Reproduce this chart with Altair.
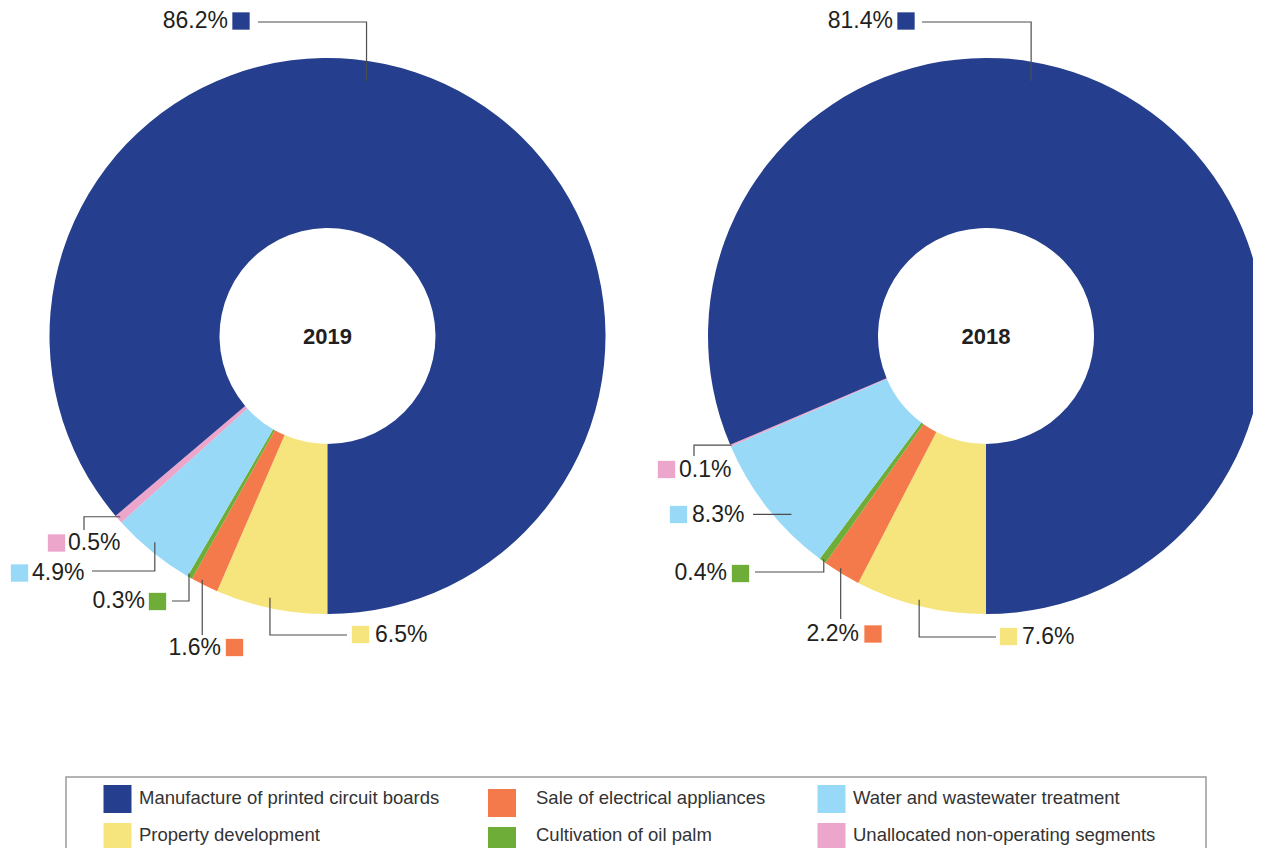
import math
import altair as alt
import pandas as pd

# ---------------- data ----------------
CATEGORIES = [
    "Property development",
    "Sale of electrical appliances",
    "Cultivation of oil palm",
    "Water and wastewater treatment",
    "Unallocated non-operating segments",
    "Manufacture of printed circuit boards",
]
COLORS = ["#F6E47C", "#F47A4B", "#6DAD38", "#97D9F6", "#ECA5CB", "#253E8D"]
YEARS = ["2019", "2018"]
SHARE_2019 = [6.5, 1.6, 0.3, 4.9, 0.5, 86.2]
SHARE_2018 = [7.6, 2.2, 0.4, 8.3, 0.1, 81.4]
LEGEND_ORDER = [
    "Manufacture of printed circuit boards",
    "Sale of electrical appliances",
    "Water and wastewater treatment",
    "Property development",
    "Cultivation of oil palm",
    "Unallocated non-operating segments",
]

# ---------------- layout (page pixels) ----------------
W, H = 1245, 840
ORIGIN = 8
CENTERS = {"2019": (327.5, 336.0), "2018": (986.0, 336.0)}
R_OUT, R_IN = 278, 108
PCT_FONT = "Liberation Sans Narrow, Arial Narrow, Liberation Sans, Arial"
PCT_SIZE = 23
LINE_COLOR = "#4D4D4D"
TEXT_COLOR = "#231F20"

# per label: anchor inside slice (fraction of slice, radius), leader path type,
# end point, square centre, text anchor x/y, text alignment
LABEL_LAYOUT = {
    ("2019", 0): dict(frac=0.53, rho=268, path="v", end=(347, 635), sq=(360.5, 634.5), tx=375, ty=635, align="left"),
    ("2019", 1): dict(frac=0.66, rho=274, path="vonly", end=(None, 635), sq=(234.5, 647.5), tx=221, ty=648, align="right"),
    ("2019", 2): dict(frac=1.0, rho=275, path="v", end=(172, 601), sq=(157.5, 601.5), tx=145, ty=601, align="right"),
    ("2019", 3): dict(frac=0.55, rho=269, path="v", end=(92, 571), sq=(19.5, 573), tx=32, ty=573, align="left"),
    ("2019", 4): dict(frac=0.57, rho=275, path="h", end=(84, 530), sq=(56.5, 543), tx=68, ty=543, align="left"),
    ("2019", 5): dict(frac=0.448, rho=258, path="v", end=(258, 22), sq=(241, 21), tx=228, ty=21, align="right"),
    ("2018", 0): dict(frac=0.52, rho=272, path="v", end=(996, 637), sq=(1008.5, 636.5), tx=1022, ty=637, align="left"),
    ("2018", 1): dict(frac=0.59, rho=274, path="vonly", end=(None, 619), sq=(873, 634), tx=859, ty=634, align="right"),
    ("2018", 2): dict(frac=0.5, rho=276, path="v", end=(755, 572), sq=(740.5, 573.5), tx=727, ty=573, align="right"),
    ("2018", 3): dict(frac=0.36, rho=264, path="honly", end=(753, None), sq=(678.5, 514.5), tx=692, ty=515, align="left"),
    ("2018", 4): dict(frac=0.5, rho=277, path="h", end=(694, 456), sq=(666.5, 469.5), tx=679, ty=470, align="left"),
    ("2018", 5): dict(frac=0.42, rho=259, path="v", end=(922, 22), sq=(906, 21), tx=893, ty=21, align="right"),
}

LEGEND_COL_SQ_X = [117.5, 502, 831.5]
LEGEND_COL_TX = [139, 536, 853]
LEGEND_COL_DY = [0, 4, 0]
LEGEND_ROW_Y = [799, 837]
LEGEND_TEXT_Y = [798, 835]
LEGEND_BOX = (66, 777, 1206, 900)

# ---------------- build tables ----------------
shares = {"2019": SHARE_2019, "2018": SHARE_2018}
arc_rows, line_rows, label_rows = [], [], []
for year in YEARS:
    cx, cy = CENTERS[year]
    cum = 0.0
    for i, (cat, v) in enumerate(zip(CATEGORIES, shares[year])):
        start, end = cum, cum + v
        cum = end
        arc_rows.append(dict(year=year, category=cat, value=v, start=start, end=end, cx=cx, cy=cy))
        lay = LABEL_LAYOUT[(year, i)]
        theta = math.pi + 2 * math.pi * (start + lay["frac"] * v) / 100.0
        ax = cx + lay["rho"] * math.sin(theta)
        ay = cy - lay["rho"] * math.cos(theta)
        ex, ey = lay["end"]
        if lay["path"] == "v":
            pts = [(ax, ay), (ax, ey), (ex, ey)]
        elif lay["path"] == "h":
            pts = [(ax, ay), (ex, ay), (ex, ey)]
        elif lay["path"] == "vonly":
            pts = [(ax, ay), (ax, ey)]
        else:
            pts = [(ax, ay), (ex, ay)]
        key = f"{year}-{i}"
        for k, (px, py) in enumerate(pts):
            line_rows.append(dict(key=key, order=k, px=px, py=py))
        label_rows.append(dict(
            year=year, category=cat, text=f"{v:.1f}%",
            sqx=lay["sq"][0], sqy=lay["sq"][1], tx=lay["tx"], ty=lay["ty"], align=lay["align"],
        ))

arc_df = pd.DataFrame(arc_rows)
line_df = pd.DataFrame(line_rows)
label_df = pd.DataFrame(label_rows)
year_df = pd.DataFrame([dict(year=y, cx=CENTERS[y][0], cy=CENTERS[y][1] + 1) for y in YEARS])

leg_rows = []
for j, cat in enumerate(LEGEND_ORDER):
    r, c = divmod(j, 3)
    leg_rows.append(dict(category=cat, sqx=LEGEND_COL_SQ_X[c], sqy=LEGEND_ROW_Y[r] + LEGEND_COL_DY[c],
                         tx=LEGEND_COL_TX[c], ty=LEGEND_TEXT_Y[r]))
leg_df = pd.DataFrame(leg_rows)
box_df = pd.DataFrame([dict(x0=LEGEND_BOX[0], y0=LEGEND_BOX[1], x1=LEGEND_BOX[2], y1=LEGEND_BOX[3])])

# ---------------- scales ----------------
xs = alt.Scale(domain=[ORIGIN, ORIGIN + W], range=[0, W], nice=False, zero=False)
ys = alt.Scale(domain=[ORIGIN, ORIGIN + H], range=[0, H], nice=False, zero=False)
cs = alt.Scale(domain=CATEGORIES, range=COLORS)

arcs = alt.Chart(arc_df).mark_arc(outerRadius=R_OUT, innerRadius=R_IN).encode(
    x=alt.X("cx:Q", scale=xs, axis=None),
    y=alt.Y("cy:Q", scale=ys, axis=None),
    theta=alt.Theta("start:Q", scale=alt.Scale(domain=[0, 100], range=[math.pi, 3 * math.pi])),
    theta2="end:Q",
    color=alt.Color("category:N", scale=cs, legend=None),
)

years_txt = alt.Chart(year_df).mark_text(
    font="Liberation Sans", fontSize=22, fontWeight="bold", color=TEXT_COLOR, baseline="middle", align="center"
).encode(x=alt.X("cx:Q", scale=xs, axis=None), y=alt.Y("cy:Q", scale=ys, axis=None), text="year:N")

leaders = alt.Chart(line_df).mark_line(color=LINE_COLOR, strokeWidth=1.2).encode(
    x=alt.X("px:Q", scale=xs, axis=None),
    y=alt.Y("py:Q", scale=ys, axis=None),
    detail="key:N",
    order="order:Q",
)

squares = alt.Chart(label_df).mark_square(size=300, opacity=1).encode(
    x=alt.X("sqx:Q", scale=xs, axis=None),
    y=alt.Y("sqy:Q", scale=ys, axis=None),
    color=alt.Color("category:N", scale=cs, legend=None),
)

txt_left = alt.Chart(label_df).transform_filter(alt.datum.align == "left").mark_text(
    font=PCT_FONT, fontSize=PCT_SIZE, color=TEXT_COLOR, align="left", baseline="middle"
).encode(x=alt.X("tx:Q", scale=xs, axis=None), y=alt.Y("ty:Q", scale=ys, axis=None), text="text:N")

txt_right = alt.Chart(label_df).transform_filter(alt.datum.align == "right").mark_text(
    font=PCT_FONT, fontSize=PCT_SIZE, color=TEXT_COLOR, align="right", baseline="middle"
).encode(x=alt.X("tx:Q", scale=xs, axis=None), y=alt.Y("ty:Q", scale=ys, axis=None), text="text:N")

box = alt.Chart(box_df).mark_rect(fillOpacity=0, stroke="#9A9A9A", strokeWidth=1.5).encode(
    x=alt.X("x0:Q", scale=xs, axis=None), x2="x1:Q",
    y=alt.Y("y0:Q", scale=ys, axis=None), y2="y1:Q",
)

leg_sq = alt.Chart(leg_df).mark_square(size=784, opacity=1).encode(
    x=alt.X("sqx:Q", scale=xs, axis=None),
    y=alt.Y("sqy:Q", scale=ys, axis=None),
    color=alt.Color("category:N", scale=cs, legend=None),
)

leg_txt = alt.Chart(leg_df).mark_text(
    font="Liberation Sans", fontSize=18.5, color="#333333", align="left", baseline="middle"
).encode(x=alt.X("tx:Q", scale=xs, axis=None), y=alt.Y("ty:Q", scale=ys, axis=None), text="category:N")

chart = alt.layer(arcs, years_txt, leaders, squares, txt_left, txt_right, box, leg_sq, leg_txt).properties(
    width=W, height=H, padding=0, autosize=alt.AutoSizeParams(type="none")
).configure_view(stroke=None)

chart.save("out.html", embed_options={"renderer": "svg", "actions": False})
